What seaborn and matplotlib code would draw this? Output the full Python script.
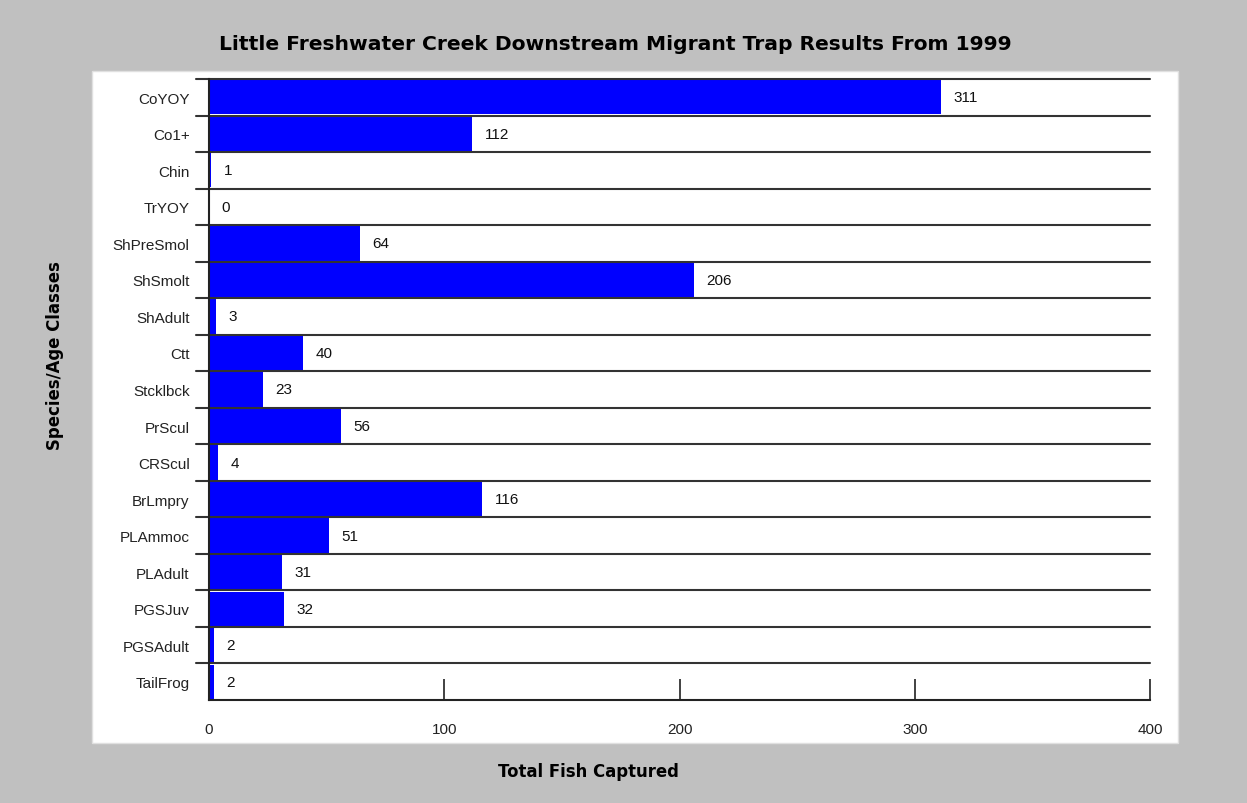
import matplotlib
matplotlib.use('Agg')
import matplotlib.pyplot as plt
import matplotlib.transforms as mtransforms
from matplotlib.patches import Rectangle
import seaborn as sns
import pandas as pd

species = ['CoYOY', 'Co1+', 'Chin', 'TrYOY', 'ShPreSmol', 'ShSmolt', 'ShAdult', 'Ctt',
           'Stcklbck', 'PrScul', 'CRScul', 'BrLmpry', 'PLAmmoc', 'PLAdult', 'PGSJuv',
           'PGSAdult', 'TailFrog']
captured = [311, 112, 1, 0, 64, 206, 3, 40, 23, 56, 4, 116, 51, 31, 32, 2, 2]
x_ticks = [0, 100, 200, 300, 400]

df = pd.DataFrame({'species': species, 'captured': captured})

sns.set_style('white')
plt.rcParams['font.family'] = ['Liberation Sans', 'DejaVu Sans']
plt.rcParams['text.color'] = '#111111'
plt.rcParams['xtick.color'] = '#222222'
plt.rcParams['ytick.color'] = '#222222'

fig = plt.figure(figsize=(12.47, 8.04), dpi=100)
fig.patch.set_facecolor('#c0c0c0')
# white panel behind the plot
panel = Rectangle((92 / 1247, 1 - 744 / 804), (1178 - 92) / 1247, 672 / 804,
                  transform=fig.transFigure, facecolor='white',
                  edgecolor='#e0e0e0', linewidth=1, zorder=-10)
fig.add_artist(panel)

ax = fig.add_axes([209 / 1247, 1 - 701 / 804, (1150 - 209) / 1247, (701 - 80) / 804])
ax.set_facecolor('none')

sns.barplot(data=df, x='captured', y='species', orient='h', color='#0000ff',
            saturation=1, width=0.94, linewidth=0, ax=ax, zorder=3)

ax.set_xlim(0, 400)
ax.set_ylim(len(species) - 0.5, -0.5)
ax.set_xticks(x_ticks)
ax.tick_params(axis='x', bottom=True, direction='in', length=15, width=1.3,
               color='#333333', labelsize=11, pad=16)
ax.tick_params(axis='y', left=False, length=0, labelsize=11, pad=14)

for s in ['top', 'right']:
    ax.spines[s].set_visible(False)
for s in ['left', 'bottom']:
    ax.spines[s].set_color('#222222')
    ax.spines[s].set_linewidth(1.5)
    ax.spines[s].set_zorder(6)

# separator lines between categories, reaching a little left of the axis
trans = mtransforms.blended_transform_factory(ax.transAxes, ax.transData)
for i in range(len(species)):
    ax.plot([-13 / 941, 1], [i - 0.5, i - 0.5], color='#333333', lw=1.5,
            transform=trans, clip_on=False, zorder=4)

for c in ax.containers:
    ax.bar_label(c, labels=[str(v) for v in captured], padding=9, fontsize=11,
                 color='#111111')

ax.set_xlabel('')
ax.set_ylabel('')
bold = dict(family='DejaVu Sans', fontweight='bold', color='black')
fig.text(615 / 1247, 1 - 44 / 804, 'Little Freshwater Creek Downstream Migrant Trap Results From 1999',
         ha='center', va='center', fontsize=14.6, **bold)
fig.text(588 / 1247, 1 - 772 / 804, 'Total Fish Captured', ha='center', va='center',
         fontsize=11.9, **bold)
fig.text(55 / 1247, 1 - 356 / 804, 'Species/Age Classes', ha='center', va='center',
         rotation=90, fontsize=11.9, **bold)

fig.savefig('out.png', dpi=100, facecolor=fig.get_facecolor())
